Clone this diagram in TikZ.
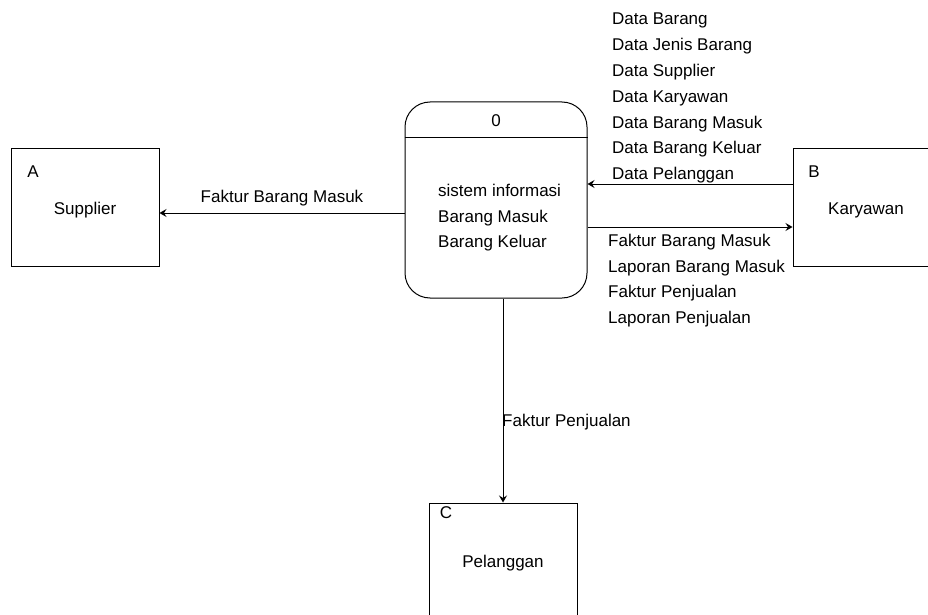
\documentclass[tikz,border=0pt]{standalone}
\usepackage{fontspec}
\setmainfont{Liberation Sans}
\usetikzlibrary{arrows.meta}

\tikzset{
  entity/.style={draw,line width=1pt,minimum width=148pt,minimum height=118pt},
  proc/.style={draw,line width=1pt,rounded corners=25pt,minimum width=182pt,minimum height=196pt},
  flow/.style={line width=1pt,-{Stealth[length=7pt,width=8pt,inset=2.5pt]}},
  txt/.style={inner sep=0pt,align=left}
}

\begin{document}
\begin{tikzpicture}[x=1pt,y=-1pt,font=\fontsize{17}{25.5}\selectfont]
  \useasboundingbox (0,0) rectangle (928,615);
  \clip (0,0) rectangle (928,615);

  \draw (496,200) node[proc] (proc) {};
  \draw (proc.west |- 0,137) -- (proc.east |- 0,137);
  \draw (496,121) node (procno) {0};
  \draw (438,184) node[txt,anchor=north west] (proctext) {sistem informasi\\Barang Masuk\\Barang Keluar};

  \draw (85,207) node[entity] (supplier) {};
  \draw (33,172) node (A) {A};
  \draw (85,210) node (suppliertext) {Supplier};

      \draw (867,207) node[entity] (karyawan) {};
  \draw (814,172) node (B) {B};
  \draw (866,210) node (karyawantext) {Karyawan};

  \draw (503,562) node[entity] (pelanggan) {};
	\draw (446,513) node (C) {C};
  \draw (503,563) node (pelanggantext) {Pelanggan};

     \draw[flow] (proc.west |- 0,213) -- (supplier.east |- 0,213) node[midway,above=3pt] (fbm) {Faktur Barang Masuk};
     \draw[flow] (karyawan.west |- 0,184) -- (proc.east |- 0,184);
     \draw[flow] (proc.east |- 0,227) -- (karyawan.west |- 0,227);
     \draw[flow] (proc.south -| pelanggan.north) -- (pelanggan.north);

  \draw (612,13) node[txt,anchor=north west] (datain) {Data Barang\\[0.3pt]Data Jenis Barang\\[0.3pt]Data Supplier\\[0.3pt]Data Karyawan\\[0.3pt]Data Barang Masuk\\[0.3pt]Data Barang Keluar\\[0.3pt]Data Pelanggan};
  \draw (608,234) node[txt,anchor=north west] (laporan) {Faktur Barang Masuk\\Laporan Barang Masuk\\Faktur Penjualan\\Laporan Penjualan};
	\draw (502,422) node[txt,anchor=west] (fpj) {Faktur Penjualan};

\end{tikzpicture}
\end{document}
